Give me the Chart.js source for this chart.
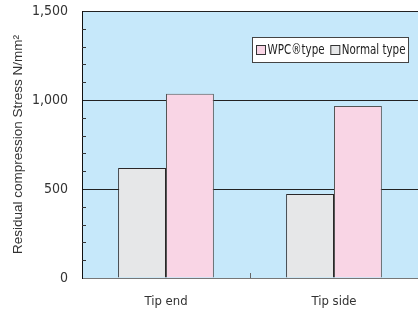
<!DOCTYPE html>
<html>
<head>
<meta charset="utf-8">
<script src="https://cdn.jsdelivr.net/npm/chart.js@4"></script>
<style>
  html, body { margin: 0; padding: 0; background: #fff; }
  #wrap { width: 418px; height: 318px; }
</style>
</head>
<body>
<div id="wrap"><canvas id="c" width="418" height="318"></canvas></div>
<script>
// chart data
const categories = ["Tip end", "Tip side"];
const normalType = [618, 472];
const wpcType = [1035, 966];
const seriesNames = ["Normal type", "WPC\u00AEtype"];
const yMax = 1500;

const NARROW = '"Liberation Sans Narrow", "DejaVu Sans Condensed", "Liberation Sans", sans-serif';
const PLOT_BG = "#c6e8fa";
const PINK = "#f9d5e5";
const GREY = "#e6e7e8";

// light blue plot background + inside minor ticks + custom boxed legend
const plotDecor = {
  id: "plotDecor",
  beforeDraw(chart) {
    const { ctx, chartArea: a } = chart;
    ctx.save();
    ctx.fillStyle = PLOT_BG;
    ctx.fillRect(a.left, a.top, a.right - a.left, a.bottom - a.top);
    ctx.restore();
  },
  afterDatasetsDraw(chart) {
    const { ctx, chartArea: a, scales } = chart;
    const y = scales.y, x = scales.x;
    ctx.save();
    ctx.strokeStyle = "#333";
    ctx.lineWidth = 1;
    for (let v = 100; v < yMax; v += 100) {
      if (v % 500 === 0) continue;
      const py = Math.round(y.getPixelForValue(v)) + 0.5;
      ctx.beginPath();
      ctx.moveTo(a.left, py);
      ctx.lineTo(a.left + 4, py);
      ctx.stroke();
    }
    // tick between the two categories on the bottom axis
    const mid = Math.round((x.getPixelForValue(0) + x.getPixelForValue(1)) / 2) + 0.5;
    ctx.strokeStyle = "#666";
    ctx.beginPath();
    ctx.moveTo(mid, a.bottom);
    ctx.lineTo(mid, a.bottom - 5);
    ctx.stroke();

    // legend box
    const bx = 252.5, by = 37.5, bw = 156, bh = 25;
    ctx.fillStyle = "#fff";
    ctx.fillRect(bx, by, bw, bh);
    ctx.strokeStyle = "#444";
    ctx.strokeRect(bx, by, bw, bh);
    const cy = by + bh / 2 + 0.5;
    const squeeze = 0.82;
    ctx.font = "14px " + NARROW;
    ctx.textBaseline = "middle";
    // pink entry, left; grey entry, right-aligned in the box
    const w2 = ctx.measureText(seriesNames[0]).width * squeeze;
    const items = [
      [seriesNames[1], PINK, bx + 4],
      [seriesNames[0], GREY, bx + bw - 3 - w2 - 11]
    ];
    items.forEach(([label, fill, sx]) => {
      ctx.fillStyle = fill;
      ctx.fillRect(sx, cy - 5, 9, 9);
      ctx.strokeStyle = "#333";
      ctx.strokeRect(sx, cy - 5, 9, 9);
      ctx.save();
      ctx.translate(sx + 11, cy);
      ctx.scale(squeeze, 1);
      ctx.fillStyle = "#222";
      ctx.fillText(label, 0, 0);
      ctx.restore();
    });
    ctx.restore();
  }
};

new Chart(document.getElementById("c"), {
  type: "bar",
  data: {
    labels: categories,
    datasets: [
      {
        label: seriesNames[0],
        data: normalType,
        backgroundColor: GREY,
        borderColor: "#2a2728",
        borderWidth: 1,
        borderSkipped: "bottom"
      },
      {
        label: seriesNames[1],
        data: wpcType,
        backgroundColor: PINK,
        borderColor: "#555",
        borderWidth: 1,
        borderSkipped: "bottom"
      }
    ]
  },
  options: {
    responsive: false,
    animation: false,
    devicePixelRatio: 1,
    categoryPercentage: 0.57,
    barPercentage: 1,
    layout: { padding: { top: 11, right: -4, bottom: 0, left: 0 } },
    plugins: {
      legend: { display: false },
      tooltip: { enabled: false }
    },
    scales: {
      x: {
        afterFit(s) { s.height = 40; },
        grid: { display: false, drawTicks: false },
        border: { display: true, color: "#777", width: 1 },
        ticks: { color: "#333", font: { family: NARROW, size: 13 }, padding: 16 }
      },
      y: {
        min: 0,
        max: yMax,
        afterFit(s) { s.width = 82; s.paddingTop = 0; s.paddingBottom = 0; },
        border: { display: true, color: "#111", width: 1 },
        grid: {
          drawTicks: false,
          lineWidth: 1,
          color: (c) => (c.tick && c.tick.value > 0 && c.tick.value % 500 === 0) ? "#222" : "rgba(0,0,0,0)"
        },
        ticks: {
          stepSize: 100,
          autoSkip: false,
          padding: 14,
          color: "#333",
          font: { family: NARROW, size: 14 },
          callback: (v) => (v % 500 === 0 ? v.toLocaleString("en-US") : "")
        },
        title: {
          display: true,
          text: "Residual compression Stress N/mm\u00B2",
          color: "#333",
          font: { family: '"Liberation Sans", Arial, sans-serif', size: 13.5 },
          padding: { top: 10, bottom: 0 }
        }
      }
    }
  },
  plugins: [plotDecor]
});
</script>
</body>
</html>
